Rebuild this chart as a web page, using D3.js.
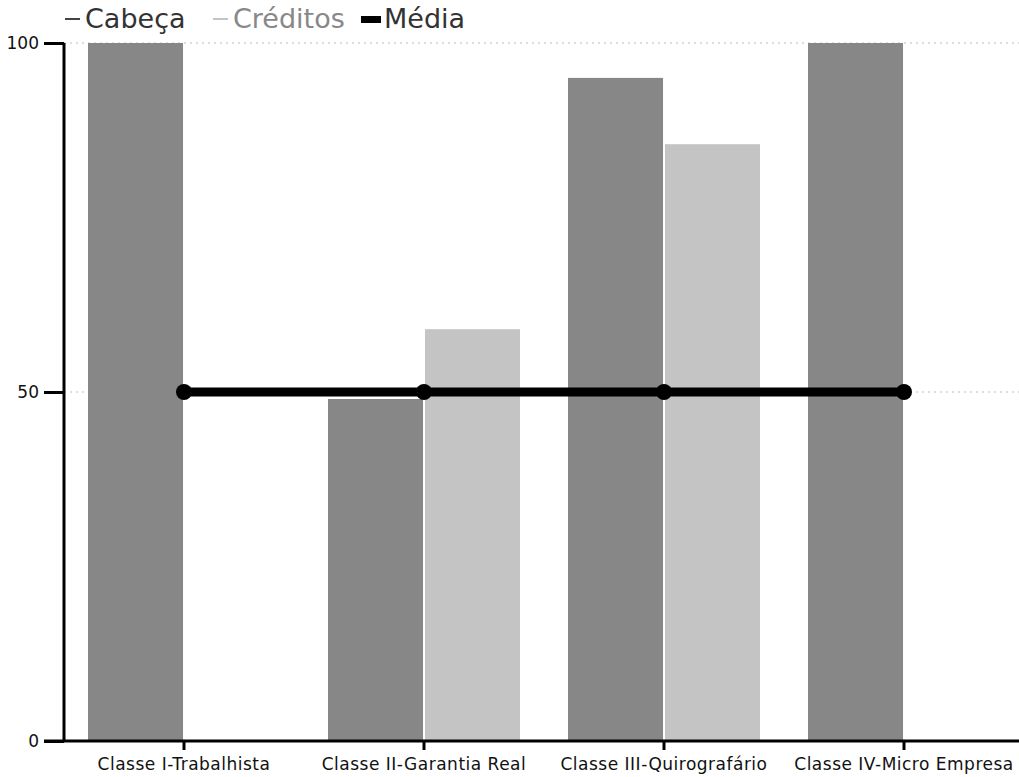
<!DOCTYPE html>
<html>
<head>
<meta charset="utf-8">
<script src="https://cdn.jsdelivr.net/npm/d3@7"></script>
<style>
  body { margin: 0; background: #fff; }
  svg, svg text { font-family: "DejaVu Sans", Verdana, sans-serif; }
</style>
</head>
<body>
<svg width="1019" height="777"></svg>
<script>
var categories = ["Classe I-Trabalhista", "Classe II-Garantia Real", "Classe III-Quirografário", "Classe IV-Micro Empresa"];
var cabeca = [100, 49, 95, 100];
var creditos = [0, 59, 85.5, 0];
var media = [50, 50, 50, 50];
var yTicks = [0, 50, 100];
var seriesNames = ["Cabeça", "Créditos", "Média"];

var svg = d3.select("svg"),
    margin = {top: 43, right: -5, bottom: 36, left: 64},
    width = +svg.attr("width") - margin.left - margin.right,
    height = +svg.attr("height") - margin.top - margin.bottom;

var colors = {"Cabeça": "#878787", "Créditos": "#c4c4c4", "Média": "#000"};

var g = svg.append("g").attr("transform", "translate(" + margin.left + "," + margin.top + ")");

var x = d3.scaleBand()
    .domain(categories)
    .range([0, width])
    .paddingInner(0.2)
    .paddingOuter(0.1);

var x1 = d3.scaleBand()
    .domain(["Cabeça", "Créditos"])
    .range([0, x.bandwidth()])
    .paddingInner(0.02);

var y = d3.scaleLinear().domain([0, 100]).range([height, 0]);

// grid
g.selectAll(".grid").data(yTicks.slice(1)).enter().append("line")
    .attr("x1", 0).attr("x2", width + 5)
    .attr("y1", function(d) { return y(d); }).attr("y2", function(d) { return y(d); })
    .attr("stroke", "#bbb").attr("stroke-width", 1).attr("stroke-dasharray", "2,4");

var data = categories.map(function(c, i) {
  return {cat: c, values: [{key: "Cabeça", v: cabeca[i]}, {key: "Créditos", v: creditos[i]}]};
});

var group = g.selectAll(".cat").data(data).enter().append("g")
    .attr("transform", function(d) { return "translate(" + x(d.cat) + ",0)"; });

group.selectAll("rect").data(function(d) { return d.values; }).enter().append("rect")
    .attr("x", function(d) { return x1(d.key); })
    .attr("width", x1.bandwidth())
    .attr("y", function(d) { return y(d.v); })
    .attr("height", function(d) { return height - y(d.v); })
    .attr("fill", function(d) { return colors[d.key]; });

// axes
var yAxis = g.append("g")
    .call(d3.axisLeft(y).tickValues(yTicks).tickSize(20).tickPadding(5));
var xAxis = g.append("g")
    .attr("transform", "translate(0," + height + ")")
    .call(d3.axisBottom(x).tickSize(9).tickPadding(8).tickSizeOuter(0));

[yAxis, xAxis].forEach(function(a) {
  a.attr("font-family", "DejaVu Sans, Verdana, sans-serif").attr("font-size", 17);
  a.select(".domain").attr("stroke", "#000").attr("stroke-width", 3);
  a.selectAll(".tick line").attr("stroke", "#000").attr("stroke-width", 3);
  a.selectAll("text").attr("fill", "#111");
});
xAxis.selectAll("text").style("letter-spacing", "0.5px");
yAxis.select(".domain").attr("d", "M0," + height + "V0");
xAxis.select(".domain").attr("d", "M-20,0H" + (width + 5));

// média line
var line = d3.line()
    .x(function(d, i) { return x(categories[i]) + x.bandwidth() / 2; })
    .y(function(d) { return y(d); });

g.append("path").datum(media)
    .attr("d", line)
    .attr("fill", "none").attr("stroke", "#000").attr("stroke-width", 9);

g.selectAll(".dot").data(media).enter().append("circle")
    .attr("cx", function(d, i) { return x(categories[i]) + x.bandwidth() / 2; })
    .attr("cy", function(d) { return y(d); })
    .attr("r", 8).attr("fill", "#000");

// legend
var legendX = [63, 211, 361];
var legend = svg.selectAll(".legend").data(seriesNames).enter().append("g")
    .attr("transform", function(d, i) { return "translate(" + legendX[i] + ",0)"; });

legend.append("rect")
    .attr("x", function(d, i) { return i === 2 ? 0 : 2; })
    .attr("y", function(d, i) { return i === 2 ? 16 : 18; })
    .attr("width", function(d, i) { return i === 2 ? 20 : 15; })
    .attr("height", function(d, i) { return i === 2 ? 7 : 2; })
    .attr("fill", function(d, i) { return i === 0 ? "#444" : colors[d]; });

legend.append("text")
    .attr("x", function(d, i) { return i === 2 ? 23 : 22; })
    .attr("y", 28)
    .style("font-size", "27px")
    .attr("fill", function(d, i) { return i === 1 ? "#888" : "#333"; })
    .text(function(d) { return d; });
</script>
</body>
</html>
